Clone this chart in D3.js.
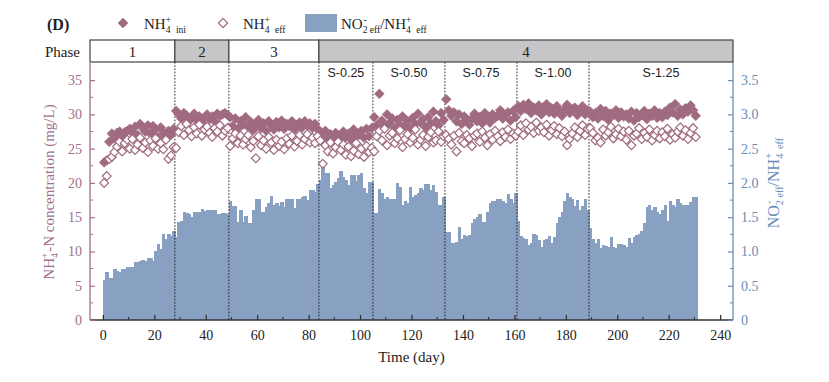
<!DOCTYPE html>
<html>
<head>
<meta charset="utf-8">
<script src="https://cdn.jsdelivr.net/npm/d3@7"></script>
<style>
  html, body { margin: 0; padding: 0; background: #fff; }
  svg { display: block; }
</style>
</head>
<body>
<svg id="chart" width="829" height="382"></svg>
<script>
// ---------------- DATA ----------------
// NO2-eff / NH4+eff ratio, one bar per day (day 0 .. 230)
const ratio = [
  0.58, 0.70, 0.62, 0.62, 0.74, 0.71, 0.70, 0.74, 0.75, 0.77,
  0.78, 0.78, 0.85, 0.84, 0.86, 0.87, 0.86, 0.90, 0.90, 0.86,
  1.00, 1.11, 1.03, 1.26, 1.18, 1.26, 1.23, 1.30,
  1.21, 1.43, 1.45, 1.57, 1.56, 1.55, 1.50, 1.58, 1.58, 1.57, 1.62,
  1.59, 1.60, 1.60, 1.60, 1.60, 1.55, 1.55, 1.56, 1.56, 1.55,
  1.73, 1.67, 1.67, 1.43, 1.61, 1.43, 1.52, 1.41, 1.42, 1.60,
  1.76, 1.76, 1.58, 1.58, 1.65, 1.70, 1.81, 1.68, 1.70, 1.66,
  1.72, 1.65, 1.76, 1.77, 1.77, 1.63, 1.76, 1.76, 1.79, 1.81, 1.75, 1.90, 1.90, 1.87, 1.99,
  2.05, 2.31, 2.15, 2.15, 1.92, 1.97, 2.02, 2.07, 2.17, 2.09, 2.04,
  1.97, 2.11, 2.11, 2.03, 2.11, 2.15, 1.92, 1.86, 2.02, 2.01,
  1.56, 1.56, 1.91, 1.85, 1.77, 1.79, 1.77, 1.77, 1.76, 2.00, 1.94, 1.68,
  1.74, 1.70, 1.94, 1.80, 1.82, 1.85, 1.92, 1.90, 1.99, 1.98, 1.90, 1.97, 1.87, 1.68, 1.68, 1.80,
  1.29, 1.29, 1.12, 1.13, 1.14, 1.35, 1.18, 1.24, 1.22, 1.24, 1.41, 1.48,
  1.50, 1.55, 1.43, 1.43, 1.57, 1.71, 1.74, 1.74, 1.76, 1.77, 1.74, 1.71, 1.84, 1.76, 1.70, 1.85,
  1.45, 1.22, 1.19, 1.18, 1.09, 1.12, 1.25, 1.24, 1.17, 1.07, 1.17, 1.18, 1.22, 1.12,
  1.21, 1.42, 1.51, 1.57, 1.73, 1.86, 1.79, 1.77, 1.66, 1.75, 1.61, 1.66, 1.77, 1.61,
  1.34, 1.18, 1.12, 1.18, 1.05, 1.09, 1.08, 1.06, 1.21, 1.06, 1.05, 1.11, 1.11, 1.09,
  1.06, 1.19, 1.12, 1.21, 1.24, 1.25, 1.30, 1.41, 1.65, 1.68, 1.60, 1.65, 1.57, 1.55,
  1.60, 1.68, 1.45, 1.74, 1.68, 1.65, 1.76, 1.70, 1.68, 1.68, 1.68, 1.72, 1.80, 1.79
];

// NH4+ initial (influent) concentration, mg/L (day 0 .. 230)
const nh4Ini = [
  23.0, 23.3, 26.0, 27.2, 26.5, 27.3, 27.5, 26.8, 27.4, 27.6,
  27.9, 27.3, 28.2, 27.0, 28.6, 28.0, 27.5, 28.4, 27.2, 28.3,
  27.8, 26.6, 28.1, 27.3, 26.4, 27.6, 27.0, 27.9,
  30.5, 30.0, 29.4, 30.2, 29.8, 29.0, 29.6, 30.1, 29.2, 29.7, 28.8,
  29.5, 30.0, 29.3, 29.7, 29.0, 30.1, 29.8, 30.0, 30.2, 29.9,
  29.6, 28.3, 29.4, 27.9, 29.0, 28.5, 29.6, 28.2, 28.9, 27.7,
  28.6, 29.2, 28.0, 28.7, 27.6, 29.0, 28.4, 27.8, 28.9, 28.1,
  29.1, 27.9, 28.6, 28.3, 29.0, 27.8, 28.5, 28.8, 28.1, 29.0, 28.4, 28.7, 28.0, 28.6, 27.9,
  27.4, 26.8, 27.6, 26.5, 27.1, 26.3, 27.3, 26.9, 26.2, 27.5, 26.7,
  27.2, 26.4, 27.8, 26.9, 27.0, 27.6, 26.6, 27.9, 26.8, 28.0,
  29.6, 28.4, 33.0, 29.1, 28.2, 30.0, 28.7, 29.4, 28.0, 29.2, 28.5, 29.7,
  28.3, 29.0, 27.9, 29.5, 28.6, 30.1, 28.8, 29.3, 28.1, 29.6, 28.7, 30.4, 29.0, 28.4, 30.2, 29.2,
  32.2, 30.6, 29.8, 30.3, 29.0, 30.0, 28.6, 29.7, 29.2, 28.5, 29.4, 30.1,
  29.0, 29.6, 28.7, 30.2, 29.3, 28.8, 30.0, 29.5, 29.8, 30.6, 29.4, 29.9, 30.3, 29.1, 30.5, 29.6,
  31.2, 30.5, 31.4, 30.8, 31.6, 30.2, 31.0, 30.6, 31.3, 30.0, 30.7, 31.5, 30.3, 30.9,
  30.1, 31.2, 30.4, 29.8, 30.8, 31.4, 30.2, 30.7, 31.0, 29.9, 30.5, 31.2, 30.0, 30.6,
  30.4, 29.6, 30.2, 29.4, 30.8, 29.8, 30.5, 29.2, 30.1, 29.9, 30.6, 29.5, 30.3, 29.7,
  30.0, 29.4, 30.4, 29.1, 30.2, 29.6, 29.9, 30.5, 29.3, 30.1, 29.8, 30.6, 29.5, 30.2,
  29.6, 30.4, 29.9, 31.0, 30.3, 31.5, 29.8, 30.7, 30.0, 30.9, 30.4, 31.3, 30.6, 29.8
];

// NH4+ effluent concentration, mg/L (day 0 .. 230)
const nh4Eff = [
  20.0, 21.0, 23.5, 23.8, 24.5, 25.3, 26.0, 24.6, 25.8, 26.3,
  25.0, 26.4, 24.8, 25.6, 26.6, 25.1, 25.9, 24.5, 26.2, 25.4,
  26.5, 25.0, 25.8, 24.9, 26.3, 23.5, 24.0, 25.2,
  25.1, 27.4, 28.3, 27.0, 28.6, 27.7, 26.8, 28.1, 27.2, 28.5, 26.9,
  27.8, 28.2, 27.3, 26.7, 28.0, 27.5, 28.4, 26.9, 27.6, 28.0,
  25.4, 26.5, 27.2, 25.8, 26.9, 25.6, 26.4, 27.0, 25.2, 26.1,
  23.6, 26.8, 25.5, 26.2, 25.0, 26.7, 25.9, 24.8, 26.3, 25.4,
  26.0, 24.9, 26.5, 25.7, 26.9, 25.3, 26.1, 27.0, 25.6, 26.4, 27.1, 25.9, 26.6, 25.8, 26.8,
  26.2, 22.8, 25.5, 24.6, 25.9, 24.3, 25.2, 26.0, 24.8, 25.6, 24.1,
  25.3, 23.9, 24.7, 25.8, 24.2, 25.0, 23.8, 25.4, 24.5, 25.1,
  24.6, 26.8, 27.6, 26.2, 27.9, 25.5, 26.9, 27.3, 25.8, 26.5, 27.7, 25.2,
  26.4, 27.1, 25.9, 26.6, 27.8, 25.6, 26.3, 27.0, 25.4, 26.7, 27.4, 25.9, 26.2, 27.5, 26.0, 26.8,
  27.0, 26.4, 25.6, 26.9, 24.6, 27.3, 26.1, 25.8, 27.0, 26.5, 25.4, 26.9,
  27.2, 26.0, 27.5, 26.6, 25.5, 27.1, 26.3, 27.6, 26.8, 26.1, 27.4, 26.7, 27.8, 26.4, 27.2, 26.9,
  27.5, 28.4, 27.0, 28.7, 27.8, 28.2, 27.3, 28.8, 27.6, 28.1, 27.4, 28.5, 26.9, 27.7,
  28.3, 27.1, 28.0, 26.8, 27.5, 25.5, 26.4, 27.2, 28.1, 26.7, 27.6, 28.4, 27.0, 27.9,
  28.0, 27.3, 26.2, 26.6, 25.9, 27.8, 26.9, 27.4, 28.2, 26.5, 27.1, 27.9, 26.8, 27.5,
  26.3, 27.6, 25.5, 26.9, 27.2, 28.0, 26.4, 27.3, 26.7, 27.8, 26.2, 27.0, 27.6, 26.5,
  27.4, 26.8, 27.9, 26.3, 27.1, 26.6, 27.5, 28.1, 26.9, 27.7, 26.4, 27.3, 28.0, 26.7
];

// Phases (days)
const phaseLabels = ["1", "2", "3", "4"];
const phaseStart = [-5, 28, 49, 84];
const phaseEnd = [28, 49, 84, 245];
const phaseShaded = [false, true, false, true];

// Sub-phases of phase 4
const subLabels = ["S-0.25", "S-0.50", "S-0.75", "S-1.00", "S-1.25"];
const subStart = [84, 105, 133, 161, 189];
const subEnd = [105, 133, 161, 189, 245];

// Dotted separators (days)
const separators = [28, 49, 84, 105, 133, 161, 189];

// Tick values
const xTicks = [0, 20, 40, 60, 80, 100, 120, 140, 160, 180, 200, 220, 240];
const yLeftTicks = [0, 5, 10, 15, 20, 25, 30, 35];
const yRightTicks = [0, 0.5, 1.0, 1.5, 2.0, 2.5, 3.0, 3.5];

// ---------------- DRAWING ----------------
const MAUVE = "#a0708a";
const MARK = "#a06a80";
const BLUE = "#6a8cb8";
const BAR = "#88a0c2";
const SERIF = "'Liberation Serif', 'Times New Roman', serif";
const SANS = "'Liberation Sans', Arial, sans-serif";

const L = 90, R = 733, T = 63, B = 320;
const svg = d3.select("#chart");

const x = d3.scaleLinear().domain([-5, 245]).range([L, R]);
const yL = d3.scaleLinear().domain([0, 37.5]).range([B, T]);
const yR = d3.scaleLinear().domain([0, 3.75]).range([B, T]);

// rich text helper
function rich(textSel, parts, base) {
  parts.forEach(p => {
    const ts = textSel.append("tspan").text(p.t);
    if (p.k === "sub") ts.attr("font-size", base * 0.64).attr("baseline-shift", -base * 0.28);
    if (p.k === "sup") ts.attr("font-size", base * 0.64).attr("baseline-shift", base * 0.42);
    if (p.dx) ts.attr("dx", p.dx);
  });
  return textSel;
}

// bars
const days = d3.range(ratio.length);
svg.append("g").attr("shape-rendering", "crispEdges")
  .selectAll("rect").data(days).join("rect")
  .attr("x", d => x(d))
  .attr("width", d => x(d + 1) - x(d) + 0.8)
  .attr("y", d => yR(ratio[d]))
  .attr("height", d => yR(0) - yR(ratio[d]))
  .attr("fill", BAR);

// dotted separators
svg.append("g").selectAll("line").data(separators).join("line")
  .attr("x1", d => x(d)).attr("x2", d => x(d))
  .attr("y1", T - 1).attr("y2", B)
  .attr("stroke", "#222").attr("stroke-width", 1)
  .attr("stroke-dasharray", "1.6,1.6");

// sub-phase labels
svg.append("g").selectAll("text").data(subLabels).join("text")
  .attr("x", (d, i) => (x(subStart[i]) + x(Math.min(subEnd[i], 245))) / 2)
  .attr("y", 77)
  .attr("text-anchor", "middle")
  .attr("font-family", SANS).attr("font-size", 12.5).attr("fill", "#222")
  .text(d => d);

// scatter
const diamond = (cx, cy, r) => `M${cx},${cy - r}L${cx + r},${cy}L${cx},${cy + r}L${cx - r},${cy}Z`;
svg.append("g").selectAll("path").data(days).join("path")
  .attr("d", d => diamond(x(d + 0.5), yL(nh4Ini[d]), 4.9))
  .attr("fill", MARK).attr("stroke", MARK).attr("stroke-width", 0.6);
svg.append("g").selectAll("path").data(days).join("path")
  .attr("d", d => diamond(x(d + 0.5), yL(nh4Eff[d]), 4.4))
  .attr("fill", "#fff").attr("stroke", MARK).attr("stroke-width", 1.2);

// phase bar
const pg = svg.append("g");
pg.selectAll("rect").data(phaseLabels).join("rect")
  .attr("x", (d, i) => x(phaseStart[i]))
  .attr("width", (d, i) => x(phaseEnd[i]) - x(phaseStart[i]))
  .attr("y", 40).attr("height", 22)
  .attr("fill", (d, i) => phaseShaded[i] ? "#c6c6c8" : "#fff")
  .attr("stroke", "#444").attr("stroke-width", 1.2);
pg.selectAll("text").data(phaseLabels).join("text")
  .attr("x", (d, i) => (x(phaseStart[i]) + x(phaseEnd[i])) / 2)
  .attr("y", 56.5)
  .attr("text-anchor", "middle")
  .attr("font-family", SERIF).attr("font-size", 15).attr("fill", "#222")
  .text(d => d);
svg.append("text").attr("x", 80).attr("y", 56.5).attr("text-anchor", "end")
  .attr("font-family", SERIF).attr("font-size", 15).attr("fill", "#222").text("Phase");

// bottom axis
const xAxis = d3.axisBottom(x).tickValues(xTicks).tickSize(-5).tickPadding(10).tickFormat(d3.format("d"));
const gx = svg.append("g").attr("transform", `translate(0,${B})`).call(xAxis);
gx.select(".domain").remove();
gx.append("line").attr("x1", L).attr("x2", R).attr("stroke", "#333").attr("stroke-width", 1.6);
gx.selectAll(".tick line").attr("stroke", "#333").attr("stroke-width", 1.3);
gx.selectAll(".tick text").attr("font-family", SERIF).attr("font-size", 14).attr("fill", "#222");
svg.append("g").selectAll("line").data(d3.range(10, 240, 20)).join("line")
  .attr("x1", d => x(d)).attr("x2", d => x(d)).attr("y1", B).attr("y2", B - 3)
  .attr("stroke", "#333").attr("stroke-width", 1.1);

// left axis
const yAxisL = d3.axisLeft(yL).tickValues(yLeftTicks).tickSize(-5).tickPadding(8);
const gl = svg.append("g").attr("transform", `translate(${L},0)`).call(yAxisL);
gl.select(".domain").remove();
gl.append("line").attr("y1", B).attr("y2", T).attr("stroke", MAUVE).attr("stroke-width", 1.3);
gl.selectAll(".tick line").attr("stroke", MAUVE).attr("stroke-width", 1.2);
gl.selectAll(".tick text").attr("font-family", SERIF).attr("font-size", 14).attr("fill", MAUVE);
svg.append("g").selectAll("line").data(d3.range(2.5, 37.5, 5)).join("line")
  .attr("x1", L).attr("x2", L + 3).attr("y1", d => yL(d)).attr("y2", d => yL(d))
  .attr("stroke", MAUVE).attr("stroke-width", 1);

// right axis
const yAxisR = d3.axisRight(yR).tickValues(yRightTicks).tickSize(-5).tickPadding(8).tickFormat(d3.format(".1f"));
const gr = svg.append("g").attr("transform", `translate(${R},0)`).call(yAxisR);
gr.select(".domain").remove();
gr.append("line").attr("y1", B).attr("y2", T - 1).attr("stroke", BLUE).attr("stroke-width", 1.3);
gr.selectAll(".tick line").attr("stroke", BLUE).attr("stroke-width", 1.2);
gr.selectAll(".tick text").attr("font-family", SERIF).attr("font-size", 14).attr("fill", BLUE)
  .text(d => d === 0 ? "0" : d3.format(".1f")(d));
svg.append("g").selectAll("line").data(d3.range(0.25, 3.75, 0.5)).join("line")
  .attr("x1", R).attr("x2", R - 3).attr("y1", d => yR(d)).attr("y2", d => yR(d))
  .attr("stroke", BLUE).attr("stroke-width", 1);

// axis titles
svg.append("text").attr("x", (L + R) / 2).attr("y", 362).attr("text-anchor", "middle")
  .attr("font-family", SERIF).attr("font-size", 15).attr("fill", "#222").text("Time (day)");

rich(svg.append("text")
  .attr("transform", "translate(54,192) rotate(-90)")
  .attr("text-anchor", "middle")
  .attr("font-family", SERIF).attr("font-size", 15).attr("fill", MAUVE),
  [{t: "NH"}, {t: "4", k: "sub"}, {t: "+", k: "sup", dx: -5}, {t: "-N concentration (mg/L)", dx: 1}], 15);

rich(svg.append("text")
  .attr("transform", "translate(779,183) rotate(-90)")
  .attr("text-anchor", "middle")
  .attr("font-family", SERIF).attr("font-size", 16).attr("fill", BLUE),
  [{t: "NO"}, {t: "2", k: "sub"}, {t: "-", k: "sup", dx: -4}, {t: "eff", k: "sub", dx: 3},
   {t: "/NH"}, {t: "4", k: "sub"}, {t: "+", k: "sup", dx: -5}, {t: "eff", k: "sub", dx: 4}], 16);

// legend
svg.append("text").attr("x", 47).attr("y", 30).attr("font-family", SERIF)
  .attr("font-size", 16).attr("font-weight", "bold").attr("fill", "#222").text("(D)");
svg.append("path").attr("d", diamond(123, 23, 5)).attr("fill", MARK).attr("stroke", MARK).attr("stroke-width", 0.6);
rich(svg.append("text").attr("x", 144).attr("y", 29).attr("font-family", SERIF).attr("font-size", 15).attr("fill", "#222"),
  [{t: "NH"}, {t: "4", k: "sub"}, {t: "+", k: "sup", dx: -5}, {t: "ini", k: "sub", dx: 5}], 15);
svg.append("path").attr("d", diamond(223, 23, 4.6)).attr("fill", "#fff").attr("stroke", MARK).attr("stroke-width", 1.2);
rich(svg.append("text").attr("x", 243).attr("y", 29).attr("font-family", SERIF).attr("font-size", 15).attr("fill", "#222"),
  [{t: "NH"}, {t: "4", k: "sub"}, {t: "+", k: "sup", dx: -5}, {t: "eff", k: "sub", dx: 5}], 15);
svg.append("rect").attr("x", 305).attr("y", 14).attr("width", 32).attr("height", 18).attr("fill", BAR);
rich(svg.append("text").attr("x", 341).attr("y", 29).attr("font-family", SERIF).attr("font-size", 15).attr("fill", "#222"),
  [{t: "NO"}, {t: "2", k: "sub"}, {t: "-", k: "sup", dx: -4}, {t: "eff", k: "sub", dx: 3},
   {t: "/NH"}, {t: "4", k: "sub"}, {t: "+", k: "sup", dx: -5}, {t: "eff", k: "sub", dx: 5}], 15);
</script>
</body>
</html>
